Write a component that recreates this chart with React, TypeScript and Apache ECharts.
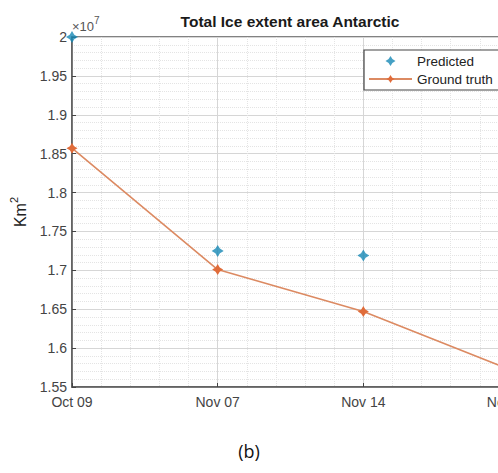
import React, { useEffect, useRef } from "react";
import * as echarts from "echarts";

const categories = ["Oct 09", "Nov 07", "Nov 14", "Nov 21"];
const predicted = [2.0, 1.725, 1.719, null];
const groundTruth = [1.857, 1.701, 1.647, 1.573];
const yTicks = { min: 1.55, max: 2.0, interval: 0.05 };

const starPath =
  "path://M0,-10 L3.8,-3.8 L10,0 L3.8,3.8 L0,10 L-3.8,3.8 L-10,0 L-3.8,-3.8 Z";

const FONT = "Arial, Liberation Sans, sans-serif";

export default function App() {
  const ref = useRef<HTMLDivElement>(null);
  useEffect(() => {
    if (!ref.current) return;
    const chart = echarts.init(ref.current, undefined, { renderer: "svg" });
    const predData = categories
      .map((c, i) => (predicted[i] == null ? null : [i, predicted[i]]))
      .filter((d) => d !== null);
    const gtData = categories.map((c, i) => [i, groundTruth[i]]);
    chart.setOption({
      animation: false,
      backgroundColor: "#ffffff",
      textStyle: { fontFamily: FONT },
      grid: {
        left: 71,
        right: 51,
        top: 37,
        bottom: 86,
        show: true,
        borderColor: "#5a5a5a",
        borderWidth: 1.5,
      },
      graphic: [
        {
          type: "text",
          x: 290,
          y: 21,
          style: {
            text: "Total Ice extent area Antarctic",
            fontSize: 15.5,
            fontWeight: "bold",
            fontFamily: FONT,
            fill: "#1a1a1a",
            textAlign: "center",
            textVerticalAlign: "middle",
          },
        },
        {
          type: "text",
          x: 72,
          y: 15,
          style: {
            text: "{a|×10}{s|7}",
            rich: {
              a: { fontSize: 13, fontFamily: FONT, fill: "#555", lineHeight: 18, verticalAlign: "bottom" },
              s: { fontSize: 10, fontFamily: FONT, fill: "#555", lineHeight: 18, verticalAlign: "top" },
            },
          },
        },
        {
          type: "text",
          x: 249,
          y: 451,
          style: {
            text: "(b)",
            fontSize: 18,
            fontFamily: "'Open Sans', sans-serif",
            fill: "#111",
            textAlign: "center",
            textVerticalAlign: "middle",
          },
        },
      ],
      legend: {
        left: 364,
        top: 50,
        orient: "vertical",
        backgroundColor: "#ffffff",
        borderColor: "#444",
        borderWidth: 1.2,
        padding: [4, 7, 4, 4],
        itemGap: 4,
        itemWidth: 43,
        itemHeight: 10,
        textStyle: { fontSize: 13.5, color: "#222" },
        data: ["Predicted", "Ground truth"],
      },
      xAxis: {
        type: "value",
        min: 0,
        max: categories.length - 1,
        interval: 1,
        axisLine: { show: true, lineStyle: { color: "#5a5a5a", width: 1.5 } },
        axisTick: { show: true, inside: true, length: 4, lineStyle: { color: "#444" } },
        axisLabel: {
          color: "#444",
          fontSize: 14,
          margin: 8,
          formatter: (v: number) => categories[Math.round(v)] ?? "",
        },
        splitLine: { show: true, lineStyle: { color: "#d6d6d6", width: 1 } },
        minorTick: { show: false, splitNumber: 5 },
        minorSplitLine: {
          show: true,
          lineStyle: { color: "#e4e4e4", type: "dotted", width: 1 },
        },
      },
      yAxis: {
        type: "value",
        min: yTicks.min,
        max: yTicks.max,
        interval: yTicks.interval,
        name: "{a|Km}{s|2}",
        nameLocation: "middle",
        nameGap: 44,
        nameRotate: 90,
        nameTextStyle: {
          rich: {
            a: { fontSize: 16, color: "#222", lineHeight: 20, verticalAlign: "bottom" },
            s: { fontSize: 11, color: "#222", lineHeight: 20, verticalAlign: "top" },
          },
        },
        axisLine: { show: true, lineStyle: { color: "#5a5a5a", width: 1.5 } },
        axisTick: { show: true, inside: true, length: 4, lineStyle: { color: "#444" } },
        axisLabel: {
          color: "#444",
          fontSize: 14,
          margin: 5,
          formatter: (v: number) => String(+v.toFixed(2)),
        },
        splitLine: { show: true, lineStyle: { color: "#d6d6d6", width: 1 } },
        minorTick: { show: false, splitNumber: 5 },
        minorSplitLine: {
          show: true,
          lineStyle: { color: "#e4e4e4", type: "dotted", width: 1 },
        },
      },
      series: [
        {
          name: "Ground truth",
          type: "line",
          data: gtData,
          symbol: starPath,
          symbolSize: 11,
          clip: false,
          lineStyle: { color: "#dc8a62", width: 1.6 },
          itemStyle: { color: "#e06c3a" },
          z: 3,
        },
        {
          name: "Predicted",
          type: "scatter",
          data: predData,
          symbol: starPath,
          symbolSize: 12,
          clip: false,
          itemStyle: { color: "#1688b5" },
          z: 4,
        },
      ],
    });
    return () => chart.dispose();
  }, []);
  return (
    <div
      style={{
        position: "fixed",
        left: 0,
        top: 0,
        width: 498,
        height: 473,
        overflow: "hidden",
        background: "#fff",
      }}
    >
      <div ref={ref} style={{ width: 560, height: 473 }} />
    </div>
  );
}
